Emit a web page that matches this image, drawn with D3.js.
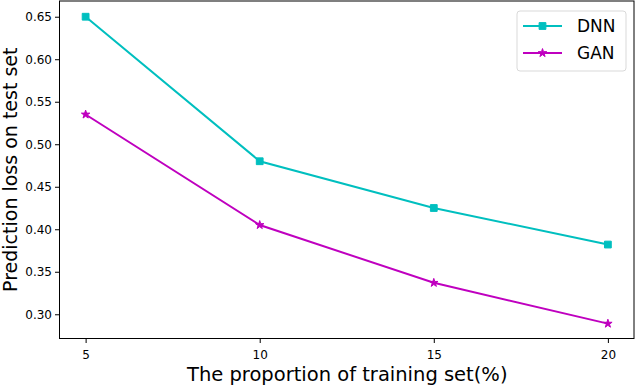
<!DOCTYPE html>
<html>
<head>
<meta charset="utf-8">
<script src="https://cdn.jsdelivr.net/npm/d3@7"></script>
<style>
  body { margin: 0; background: #fff; }
  text { font-family: "DejaVu Sans", sans-serif; fill: #000; }
</style>
</head>
<body>
<svg id="chart" width="636" height="386"></svg>
<script>
// values
var proportions = [5, 10, 15, 20];
var dnnLoss = [0.650, 0.480, 0.425, 0.382];
var ganLoss = [0.535, 0.405, 0.337, 0.289];
var xTicks = [5, 10, 15, 20];
var yTicks = [0.30, 0.35, 0.40, 0.45, 0.50, 0.55, 0.60, 0.65];

(function() {
	var svg = d3.select("#chart");
	var pl = 59.5, pr = 634, pt = 1, pb = 338.5;

	var x = d3.scaleLinear().domain([4.25, 20.75]).range([pl, pr]);
	var y = d3.scaleLinear().domain([0.2715, 0.6685]).range([pb, pt]);

	var series = [
		{ name: "DNN", values: dnnLoss, color: "#00bfbf", shape: d3.symbolSquare, size: 46 },
		{ name: "GAN", values: ganLoss, color: "#bf00bf", shape: d3.symbolStar, size: 22 }
	];

	// axes
	var gx = svg.append("g").attr("transform", "translate(0," + pb + ")")
		.call(d3.axisBottom(x).tickValues(xTicks).tickFormat(d3.format("d")).tickSizeInner(4.5).tickSizeOuter(0));
	var gy = svg.append("g").attr("transform", "translate(" + pl + ",0)")
		.call(d3.axisLeft(y).tickValues(yTicks).tickFormat(d3.format(".2f")).tickSizeInner(4.5).tickSizeOuter(0));
	[gx, gy].forEach(function(g) {
		g.attr("font-size", 12).attr("font-family", "DejaVu Sans");
		g.select(".domain").remove();
		g.selectAll(".tick line").attr("stroke", "#000").attr("stroke-width", 1);
	});
	gx.selectAll(".tick text").attr("dy", "1.05em");
	gy.selectAll(".tick text").attr("x", -7.5);

	// frame
	svg.append("rect").attr("x", pl).attr("y", pt)
		.attr("width", pr - pl).attr("height", pb - pt)
		.attr("fill", "none").attr("stroke", "#000").attr("stroke-width", 1);

	// lines and markers
	var line = d3.line().x(function(d, i) { return x(proportions[i]); }).y(function(d) { return y(d); });
	series.forEach(function(s) {
		svg.append("path").datum(s.values).attr("d", line)
			.attr("fill", "none").attr("stroke", s.color).attr("stroke-width", 2);
		svg.selectAll(null).data(s.values).enter().append("path")
			.attr("transform", function(d, i) { return "translate(" + x(proportions[i]) + "," + y(d) + ")"; })
			.attr("d", d3.symbol().type(s.shape).size(s.size))
			.attr("fill", s.color).attr("stroke", s.color).attr("stroke-width", 1);
	});

	// axis labels
	svg.append("text").attr("x", (pl + pr) / 2 + 0.5).attr("y", 381)
		.attr("text-anchor", "middle").attr("font-size", 19.5)
		.text("The proportion of training set(%)");
	svg.append("text").attr("transform", "translate(16.5," + ((pt + pb) / 2) + ") rotate(-90)")
		.attr("text-anchor", "middle").attr("font-size", 19)
		.text("Prediction loss on test set");

	// legend
	var lg = svg.append("g").attr("transform", "translate(517,11)");
	lg.append("rect").attr("width", 109).attr("height", 60).attr("rx", 3)
		.attr("fill", "#fff").attr("fill-opacity", 0.8).attr("stroke", "#d9d9d9");
	series.forEach(function(s, i) {
		var ly = 15 + i * 27;
		lg.append("line").attr("x1", 6).attr("x2", 45).attr("y1", ly).attr("y2", ly)
			.attr("stroke", s.color).attr("stroke-width", 2);
		lg.append("path").attr("transform", "translate(25.5," + ly + ")")
			.attr("d", d3.symbol().type(s.shape).size(s.size))
			.attr("fill", s.color).attr("stroke", s.color).attr("stroke-width", 1);
		lg.append("text").attr("x", 60).attr("y", ly + 6).attr("font-size", 17).text(s.name);
	});
})();
</script>
</body>
</html>
